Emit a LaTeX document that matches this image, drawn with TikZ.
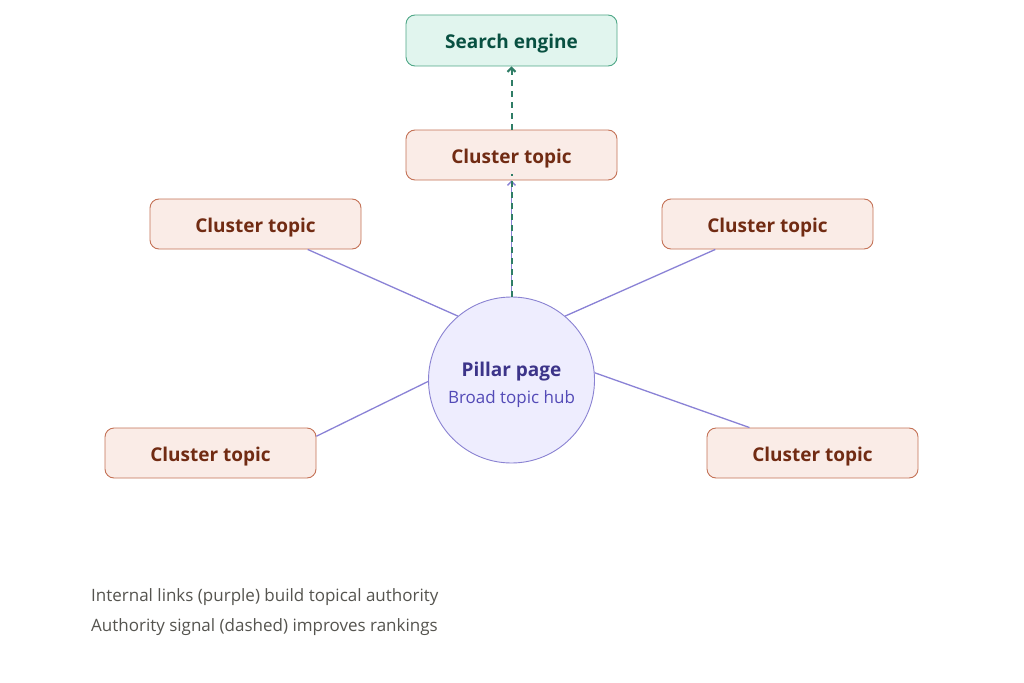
\documentclass[tikz,border=0pt]{standalone}
\usepackage{fontspec}
\setmainfont{Open Sans}
\usetikzlibrary{arrows.meta}
\definecolor{clfill}{HTML}{FAECE7}
\definecolor{cldraw}{HTML}{C47256}
\definecolor{cltext}{HTML}{712B13}
\definecolor{sefill}{HTML}{E1F5EE}
\definecolor{sedraw}{HTML}{4FA787}
\definecolor{setext}{HTML}{085041}
\definecolor{pifill}{HTML}{EEEDFE}
\definecolor{pidraw}{HTML}{8A82D2}
\definecolor{pitext}{HTML}{3C3489}
\definecolor{pisub}{HTML}{534AB7}
\definecolor{linkc}{HTML}{8A82D6}
\definecolor{sigc}{HTML}{2F7D66}
\definecolor{notec}{HTML}{55544F}
\tikzset{
  cluster/.style={draw=cldraw, fill=clfill, line width=0.9pt, rounded corners=9pt,
    minimum width=211pt, minimum height=50pt, inner sep=0pt, text height=16pt, text depth=0pt,
    text=cltext, font=\fontsize{19}{24}\selectfont\bfseries},
  searchbox/.style={draw=sedraw, fill=sefill, line width=0.9pt, rounded corners=9pt,
    minimum width=211pt, minimum height=51pt, inner sep=0pt, text height=16pt, text depth=0pt,
    text=setext, font=\fontsize{19}{24}\selectfont\bfseries},
  pillar/.style={circle, draw=pidraw, fill=pifill, line width=0.9pt,
    minimum size=166pt, inner sep=0pt},
  link/.style={draw=linkc, line width=1.3pt},
  signal/.style={draw=sigc, line width=2pt, dash pattern=on 6pt off 5pt},
  note/.style={anchor=west, text=notec, font=\fontsize{17}{20}\selectfont, inner sep=0pt},
}
\begin{document}
\begin{tikzpicture}[x=1pt,y=-1pt]
\useasboundingbox (0,0) rectangle (1024,682);
\fill[white] (0,0) rectangle (1024,682);

\node[searchbox] (se) at (511.5,40.5) {Search engine};
\node[cluster] (ct) at (511.5,155) {Cluster topic};
\node[cluster] (cul) at (255.5,224) {Cluster topic};
\node[cluster] (cur) at (767.5,224) {Cluster topic};
\node[cluster] (cll) at (210.5,453) {Cluster topic};
\node[cluster] (clr) at (812.5,453) {Cluster topic};
\node[pillar] (pp) at (511.5,380) {};
\node[text=pitext, font=\fontsize{19}{24}\selectfont\bfseries, inner sep=0pt] (ppt) at (511.5,372) {Pillar page};
\node[text=pisub, font=\fontsize{17}{20}\selectfont, inner sep=0pt] (pps) at (511.5,399) {Broad topic hub};

\draw[link] (pp.130) -- (cul.-26);
\draw[link] (pp.50) -- (cur.206);
\draw[link] (pp.181.4) -- (cll.9);
\draw[link] (pp.5.5) -- (clr.158);
\draw[link, -{Straight Barb[length=4pt,width=8pt]}] (pp.north) -- (ct.south);
\draw[signal] (pp.north) -- ([yshift=6pt]ct.south);
\draw[signal, -{Straight Barb[length=4pt,width=8pt]}] (ct.north) -- (se.south);

\node[note] (n1) at (91,597) {Internal links (purple) build topical authority};
\node[note] (n2) at (91,627) {Authority signal (dashed) improves rankings};
\end{tikzpicture}
\end{document}
